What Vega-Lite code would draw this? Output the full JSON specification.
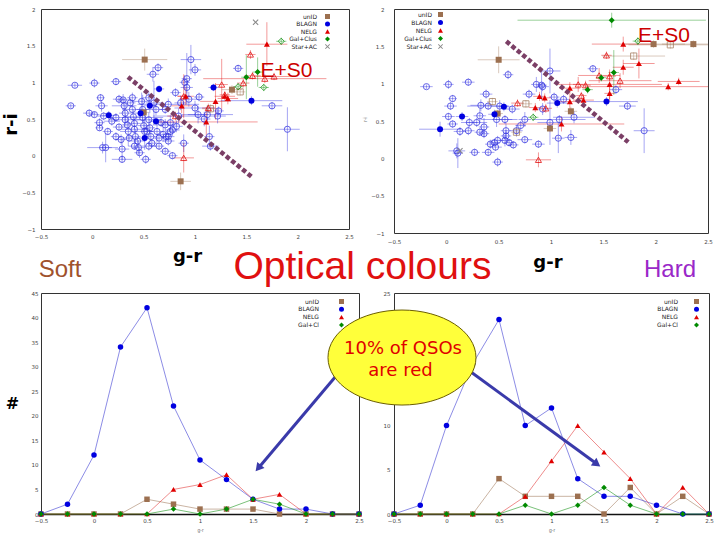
{
"$schema": "https://vega.github.io/schema/vega-lite/v6.json",
"background": "white",
"padding": {"left": 1, "top": 6, "right": 0, "bottom": 0},
"config": {
 "view": {"stroke": "#333", "strokeWidth": 1},
 "axis": {"grid": false, "ticks": false, "domain": false, "labelFontSize": 5.5, "labelColor": "#444", "labelFont": "DejaVu Sans", "labelOverlap": false, "format": "~g"}
},
"bounds": "flush",
"columns": 2,
"spacing": {"row": 60, "column": 35},
"resolve": {"scale": {"color": "independent", "shape": "independent"}, "legend": {"color": "independent", "shape": "independent"}},
"datasets": {
 "tl": [
  {"cls":"BLAGN","fill":"o","gr":-0.21,"ri":0.68,"egr":0.05,"eri":0.03},
  {"cls":"BLAGN","fill":"o","gr":-0.17,"ri":0.96,"egr":0.07,"eri":0.03},
  {"cls":"BLAGN","fill":"o","gr":-0.03,"ri":0.58,"egr":0.06,"eri":0.05},
  {"cls":"BLAGN","fill":"o","gr":0.02,"ri":0.56,"egr":0.05,"eri":0.04},
  {"cls":"BLAGN","fill":"o","gr":0.02,"ri":0.99,"egr":0.05,"eri":0.06},
  {"cls":"BLAGN","fill":"o","gr":0.08,"ri":0.79,"egr":0.04,"eri":0.05},
  {"cls":"BLAGN","fill":"o","gr":0.09,"ri":0.68,"egr":0.06,"eri":0.08},
  {"cls":"BLAGN","fill":"o","gr":0.07,"ri":0.45,"egr":0.05,"eri":0.06},
  {"cls":"BLAGN","fill":"o","gr":0.07,"ri":0.38,"egr":0.04,"eri":0.04},
  {"cls":"BLAGN","fill":"o","gr":0.10,"ri":0.11,"egr":0.15,"eri":0.08},
  {"cls":"BLAGN","fill":"o","gr":0.13,"ri":0.11,"egr":0.06,"eri":0.2},
  {"cls":"BLAGN","fill":"o","gr":0.23,"ri":1.01,"egr":0.05,"eri":0.05},
  {"cls":"BLAGN","fill":"o","gr":0.23,"ri":0.52,"egr":0.08,"eri":0.06},
  {"cls":"BLAGN","fill":"o","gr":0.26,"ri":0.39,"egr":0.06,"eri":0.05},
  {"cls":"BLAGN","fill":"o","gr":0.29,"ri":0.09,"egr":0.07,"eri":0.15},
  {"cls":"BLAGN","fill":"o","gr":0.29,"ri":-0.05,"egr":0.1,"eri":0.05},
  {"cls":"BLAGN","fill":"o","gr":0.30,"ri":0.76,"egr":0.06,"eri":0.08},
  {"cls":"BLAGN","fill":"o","gr":0.31,"ri":0.68,"egr":0.12,"eri":0.1},
  {"cls":"BLAGN","fill":"o","gr":0.32,"ri":0.58,"egr":0.06,"eri":0.12},
  {"cls":"BLAGN","fill":"o","gr":0.32,"ri":0.49,"egr":0.15,"eri":0.08},
  {"cls":"BLAGN","fill":"o","gr":0.34,"ri":0.42,"egr":0.05,"eri":0.06},
  {"cls":"BLAGN","fill":"o","gr":0.35,"ri":0.33,"egr":0.08,"eri":0.2},
  {"cls":"BLAGN","fill":"o","gr":0.36,"ri":0.24,"egr":0.06,"eri":0.05},
  {"cls":"BLAGN","fill":"o","gr":0.37,"ri":0.72,"egr":0.05,"eri":0.06},
  {"cls":"BLAGN","fill":"o","gr":0.39,"ri":0.63,"egr":0.1,"eri":0.07},
  {"cls":"BLAGN","fill":"o","gr":0.40,"ri":0.53,"egr":0.08,"eri":0.1},
  {"cls":"BLAGN","fill":"o","gr":0.41,"ri":0.44,"egr":0.06,"eri":0.08},
  {"cls":"BLAGN","fill":"o","gr":0.41,"ri":0.36,"egr":0.12,"eri":0.06},
  {"cls":"BLAGN","fill":"o","gr":0.42,"ri":0.26,"egr":0.05,"eri":0.1},
  {"cls":"BLAGN","fill":"o","gr":0.44,"ri":0.20,"egr":0.07,"eri":0.05},
  {"cls":"BLAGN","fill":"o","gr":0.45,"ri":0.11,"egr":0.06,"eri":0.1},
  {"cls":"BLAGN","fill":"o","gr":0.46,"ri":0.04,"egr":0.05,"eri":0.07},
  {"cls":"BLAGN","fill":"o","gr":0.48,"ri":0.74,"egr":0.1,"eri":0.12},
  {"cls":"BLAGN","fill":"o","gr":0.49,"ri":0.63,"egr":0.06,"eri":0.2},
  {"cls":"BLAGN","fill":"o","gr":0.49,"ri":0.52,"egr":0.2,"eri":0.06},
  {"cls":"BLAGN","fill":"o","gr":0.50,"ri":0.41,"egr":0.06,"eri":0.08},
  {"cls":"BLAGN","fill":"o","gr":0.51,"ri":0.33,"egr":0.08,"eri":0.25},
  {"cls":"BLAGN","fill":"o","gr":0.52,"ri":-0.05,"egr":0.05,"eri":0.06},
  {"cls":"BLAGN","fill":"o","gr":0.53,"ri":0.33,"egr":0.06,"eri":0.05},
  {"cls":"BLAGN","fill":"o","gr":0.55,"ri":0.49,"egr":0.12,"eri":0.1},
  {"cls":"BLAGN","fill":"o","gr":0.56,"ri":0.38,"egr":0.05,"eri":0.12},
  {"cls":"BLAGN","fill":"o","gr":0.57,"ri":0.26,"egr":0.06,"eri":0.07},
  {"cls":"BLAGN","fill":"o","gr":0.58,"ri":0.17,"egr":0.05,"eri":0.06},
  {"cls":"BLAGN","fill":"o","gr":0.59,"ri":1.11,"egr":0.06,"eri":0.1},
  {"cls":"BLAGN","fill":"o","gr":0.64,"ri":1.20,"egr":0.05,"eri":0.06},
  {"cls":"BLAGN","fill":"o","gr":0.60,"ri":0.72,"egr":0.08,"eri":0.3},
  {"cls":"BLAGN","fill":"o","gr":0.62,"ri":0.63,"egr":0.1,"eri":0.08},
  {"cls":"BLAGN","fill":"o","gr":0.63,"ri":0.33,"egr":0.06,"eri":0.15},
  {"cls":"BLAGN","fill":"o","gr":0.65,"ri":0.24,"egr":0.05,"eri":0.05},
  {"cls":"BLAGN","fill":"o","gr":0.67,"ri":0.45,"egr":0.07,"eri":0.06},
  {"cls":"BLAGN","fill":"o","gr":0.69,"ri":0.29,"egr":0.06,"eri":0.1},
  {"cls":"BLAGN","fill":"o","gr":0.71,"ri":0.63,"egr":0.05,"eri":0.06},
  {"cls":"BLAGN","fill":"o","gr":0.71,"ri":0.42,"egr":0.12,"eri":0.08},
  {"cls":"BLAGN","fill":"o","gr":0.72,"ri":0.26,"egr":0.05,"eri":0.06},
  {"cls":"BLAGN","fill":"o","gr":0.74,"ri":0.26,"egr":0.06,"eri":0.05},
  {"cls":"BLAGN","fill":"o","gr":0.74,"ri":0.70,"egr":0.3,"eri":0.08},
  {"cls":"BLAGN","fill":"o","gr":0.76,"ri":0.45,"egr":0.06,"eri":0.1},
  {"cls":"BLAGN","fill":"o","gr":0.76,"ri":0.33,"egr":0.05,"eri":0.06},
  {"cls":"BLAGN","fill":"o","gr":0.71,"ri":0.06,"egr":0.05,"eri":0.05},
  {"cls":"BLAGN","fill":"o","gr":0.78,"ri":0.00,"egr":0.05,"eri":0.05},
  {"cls":"BLAGN","fill":"o","gr":0.81,"ri":0.86,"egr":0.05,"eri":0.06},
  {"cls":"BLAGN","fill":"o","gr":0.82,"ri":0.40,"egr":0.06,"eri":0.08},
  {"cls":"BLAGN","fill":"o","gr":0.84,"ri":0.54,"egr":0.25,"eri":0.1},
  {"cls":"BLAGN","fill":"o","gr":0.86,"ri":0.72,"egr":0.06,"eri":0.1},
  {"cls":"BLAGN","fill":"o","gr":0.89,"ri":0.17,"egr":0.05,"eri":0.12},
  {"cls":"BLAGN","fill":"o","gr":0.90,"ri":1.00,"egr":0.05,"eri":0.1},
  {"cls":"BLAGN","fill":"o","gr":0.92,"ri":1.05,"egr":0.05,"eri":0.35},
  {"cls":"BLAGN","fill":"o","gr":0.92,"ri":0.93,"egr":0.06,"eri":0.08},
  {"cls":"BLAGN","fill":"o","gr":0.94,"ri":0.77,"egr":0.1,"eri":0.1},
  {"cls":"BLAGN","fill":"o","gr":0.96,"ri":1.31,"egr":0.1,"eri":0.2},
  {"cls":"BLAGN","fill":"o","gr":1.00,"ri":1.17,"egr":0.06,"eri":0.08},
  {"cls":"BLAGN","fill":"o","gr":1.00,"ri":0.65,"egr":0.2,"eri":0.1},
  {"cls":"BLAGN","fill":"o","gr":1.03,"ri":0.56,"egr":0.1,"eri":0.12},
  {"cls":"BLAGN","fill":"o","gr":1.04,"ri":0.80,"egr":0.05,"eri":0.06},
  {"cls":"BLAGN","fill":"o","gr":1.09,"ri":0.50,"egr":0.06,"eri":0.1},
  {"cls":"BLAGN","fill":"o","gr":1.12,"ri":0.56,"egr":0.25,"eri":0.12},
  {"cls":"BLAGN","fill":"o","gr":1.14,"ri":0.26,"egr":0.05,"eri":0.15},
  {"cls":"BLAGN","fill":"o","gr":1.15,"ri":0.13,"egr":0.08,"eri":0.06},
  {"cls":"BLAGN","fill":"o","gr":1.22,"ri":0.54,"egr":0.08,"eri":0.1},
  {"cls":"BLAGN","fill":"o","gr":1.23,"ri":0.61,"egr":0.05,"eri":0.06},
  {"cls":"BLAGN","fill":"o","gr":1.42,"ri":1.19,"egr":0.05,"eri":0.05},
  {"cls":"BLAGN","fill":"o","gr":1.75,"ri":0.68,"egr":0.1,"eri":0.05},
  {"cls":"BLAGN","fill":"o","gr":1.90,"ri":0.36,"egr":0.12,"eri":0.3},
  {"cls":"BLAGN","fill":"o","gr":0.26,"ri":0.77,"egr":0.06,"eri":0.06},
  {"cls":"BLAGN","fill":"o","gr":0.19,"ri":0.47,"egr":0.08,"eri":0.06},
  {"cls":"BLAGN","fill":"o","gr":0.11,"ri":0.54,"egr":0.06,"eri":0.05},
  {"cls":"BLAGN","fill":"o","gr":0.28,"ri":0.22,"egr":0.05,"eri":0.07},
  {"cls":"BLAGN","fill":"o","gr":0.41,"ri":0.13,"egr":0.06,"eri":0.05},
  {"cls":"BLAGN","fill":"o","gr":0.55,"ri":0.13,"egr":0.07,"eri":0.06},
  {"cls":"BLAGN","fill":"o","gr":0.65,"ri":0.13,"egr":0.05,"eri":0.05},
  {"cls":"BLAGN","fill":"o","gr":0.74,"ri":0.20,"egr":0.06,"eri":0.06},
  {"cls":"BLAGN","fill":"o","gr":0.78,"ri":0.35,"egr":0.07,"eri":0.08},
  {"cls":"BLAGN","fill":"o","gr":0.39,"ri":0.79,"egr":0.05,"eri":0.07},
  {"cls":"BLAGN","fill":"o","gr":0.55,"ri":0.79,"egr":0.06,"eri":0.08},
  {"cls":"BLAGN","fill":"o","gr":0.23,"ri":0.26,"egr":0.05,"eri":0.06},
  {"cls":"BLAGN","fill":"o","gr":0.15,"ri":0.33,"egr":0.05,"eri":0.05},
  {"cls":"unID","fill":"o","gr":1.44,"ri":0.87,"egr":0.05,"eri":0.05},
  {"cls":"unID","fill":"o","gr":1.15,"ri":0.64,"egr":0.08,"eri":0.06},
  {"cls":"NELG","fill":"o","gr":1.54,"ri":1.38,"egr":0.05,"eri":0.06},
  {"cls":"NELG","fill":"o","gr":1.26,"ri":0.97,"egr":0.06,"eri":0.35},
  {"cls":"NELG","fill":"o","gr":1.56,"ri":1.09,"egr":0.08,"eri":0.05},
  {"cls":"NELG","fill":"o","gr":1.68,"ri":1.05,"egr":0.6,"eri":0.06},
  {"cls":"NELG","fill":"o","gr":1.77,"ri":1.08,"egr":0.2,"eri":0.05},
  {"cls":"NELG","fill":"o","gr":0.89,"ri":-0.03,"egr":0.1,"eri":0.2},
  {"cls":"NELG","fill":"o","gr":0.81,"ri":0.54,"egr":0.08,"eri":0.06},
  {"cls":"NELG","fill":"o","gr":0.89,"ri":0.81,"egr":0.06,"eri":0.3},
  {"cls":"NELG","fill":"o","gr":1.29,"ri":0.83,"egr":0.05,"eri":0.05},
  {"cls":"NELG","fill":"o","gr":1.13,"ri":0.65,"egr":0.06,"eri":0.06},
  {"cls":"NELG","fill":"o","gr":1.47,"ri":0.99,"egr":0.06,"eri":0.06},
  {"cls":"Gal+Clus","fill":"o","gr":1.84,"ri":1.56,"egr":0.05,"eri":0.05},
  {"cls":"Gal+Clus","fill":"o","gr":1.42,"ri":0.94,"egr":0.05,"eri":0.05},
  {"cls":"Gal+Clus","fill":"o","gr":1.67,"ri":0.93,"egr":0.05,"eri":0.05},
  {"cls":"unID","fill":"f","gr":0.51,"ri":1.31,"egr":0.22,"eri":0.15},
  {"cls":"unID","fill":"f","gr":1.36,"ri":0.90,"egr":0.1,"eri":0.06},
  {"cls":"unID","fill":"f","gr":0.86,"ri":-0.35,"egr":0.1,"eri":0.12},
  {"cls":"unID","fill":"f","gr":0.50,"ri":0.59,"egr":0.05,"eri":0.05},
  {"cls":"BLAGN","fill":"f","gr":0.16,"ri":0.55,"egr":0.08,"eri":0.06},
  {"cls":"BLAGN","fill":"f","gr":0.47,"ri":0.58,"egr":0.06,"eri":0.06},
  {"cls":"BLAGN","fill":"f","gr":0.56,"ri":0.68,"egr":0.06,"eri":0.1},
  {"cls":"BLAGN","fill":"f","gr":0.62,"ri":0.47,"egr":0.06,"eri":0.05},
  {"cls":"BLAGN","fill":"f","gr":0.65,"ri":0.91,"egr":0.05,"eri":0.05},
  {"cls":"BLAGN","fill":"f","gr":1.18,"ri":0.93,"egr":0.05,"eri":0.05},
  {"cls":"BLAGN","fill":"f","gr":1.55,"ri":0.75,"egr":0.3,"eri":0.06},
  {"cls":"BLAGN","fill":"f","gr":0.51,"ri":0.24,"egr":0.06,"eri":0.05},
  {"cls":"NELG","fill":"f","gr":1.70,"ri":1.52,"egr":0.2,"eri":0.3},
  {"cls":"NELG","fill":"f","gr":0.87,"ri":0.68,"egr":0.1,"eri":0.1},
  {"cls":"NELG","fill":"f","gr":0.91,"ri":0.81,"egr":0.08,"eri":0.12},
  {"cls":"NELG","fill":"f","gr":1.11,"ri":0.46,"egr":0.5,"eri":0.2},
  {"cls":"NELG","fill":"f","gr":1.20,"ri":0.74,"egr":0.15,"eri":0.25},
  {"cls":"NELG","fill":"f","gr":1.32,"ri":0.78,"egr":0.1,"eri":0.08},
  {"cls":"NELG","fill":"f","gr":1.29,"ri":0.81,"egr":0.1,"eri":0.06},
  {"cls":"Gal+Clus","fill":"f","gr":1.50,"ri":1.07,"egr":0.05,"eri":0.3},
  {"cls":"Gal+Clus","fill":"f","gr":1.61,"ri":1.14,"egr":0.05,"eri":0.2},
  {"cls":"Star+AC","fill":"f","gr":1.59,"ri":1.82,"egr":0,"eri":0}
 ],
 "tr": [
  {"cls":"BLAGN","fill":"o","gr":-0.19,"ri":0.96,"egr":0.06,"eri":0.03},
  {"cls":"BLAGN","fill":"o","gr":0.02,"ri":0.99,"egr":0.05,"eri":0.06},
  {"cls":"BLAGN","fill":"o","gr":0.21,"ri":1.02,"egr":0.06,"eri":0.05},
  {"cls":"BLAGN","fill":"o","gr":0.06,"ri":0.80,"egr":0.04,"eri":0.05},
  {"cls":"BLAGN","fill":"o","gr":0.04,"ri":0.70,"egr":0.06,"eri":0.05},
  {"cls":"BLAGN","fill":"o","gr":0.02,"ri":0.56,"egr":0.06,"eri":0.05},
  {"cls":"BLAGN","fill":"o","gr":0.06,"ri":0.46,"egr":0.05,"eri":0.05},
  {"cls":"BLAGN","fill":"o","gr":0.13,"ri":0.36,"egr":0.06,"eri":0.06},
  {"cls":"BLAGN","fill":"o","gr":0.10,"ri":0.10,"egr":0.08,"eri":0.1},
  {"cls":"BLAGN","fill":"o","gr":0.11,"ri":0.07,"egr":0.05,"eri":0.2},
  {"cls":"BLAGN","fill":"o","gr":0.27,"ri":0.08,"egr":0.05,"eri":0.05},
  {"cls":"BLAGN","fill":"o","gr":0.22,"ri":0.48,"egr":0.08,"eri":0.06},
  {"cls":"BLAGN","fill":"o","gr":0.29,"ri":0.48,"egr":0.1,"eri":0.06},
  {"cls":"BLAGN","fill":"o","gr":0.32,"ri":0.57,"egr":0.06,"eri":0.1},
  {"cls":"BLAGN","fill":"o","gr":0.38,"ri":0.86,"egr":0.06,"eri":0.06},
  {"cls":"BLAGN","fill":"o","gr":0.33,"ri":0.71,"egr":0.1,"eri":0.08},
  {"cls":"BLAGN","fill":"o","gr":0.40,"ri":0.70,"egr":0.2,"eri":0.05},
  {"cls":"BLAGN","fill":"o","gr":0.36,"ri":0.42,"egr":0.05,"eri":0.12},
  {"cls":"BLAGN","fill":"o","gr":0.36,"ri":0.33,"egr":0.05,"eri":0.06},
  {"cls":"BLAGN","fill":"o","gr":0.40,"ri":0.08,"egr":0.06,"eri":0.05},
  {"cls":"BLAGN","fill":"o","gr":0.42,"ri":0.19,"egr":0.05,"eri":0.06},
  {"cls":"BLAGN","fill":"o","gr":0.46,"ri":0.21,"egr":0.05,"eri":0.05},
  {"cls":"BLAGN","fill":"o","gr":0.48,"ri":0.52,"egr":0.15,"eri":0.1},
  {"cls":"BLAGN","fill":"o","gr":0.49,"ri":0.24,"egr":0.06,"eri":0.06},
  {"cls":"BLAGN","fill":"o","gr":0.51,"ri":0.70,"egr":0.08,"eri":0.08},
  {"cls":"BLAGN","fill":"o","gr":0.56,"ri":0.52,"egr":0.12,"eri":0.06},
  {"cls":"BLAGN","fill":"o","gr":0.57,"ri":0.37,"egr":0.05,"eri":0.1},
  {"cls":"BLAGN","fill":"o","gr":0.56,"ri":0.24,"egr":0.06,"eri":0.08},
  {"cls":"BLAGN","fill":"o","gr":0.57,"ri":0.30,"egr":0.05,"eri":0.08},
  {"cls":"BLAGN","fill":"o","gr":0.59,"ri":1.12,"egr":0.05,"eri":0.06},
  {"cls":"BLAGN","fill":"o","gr":0.60,"ri":0.21,"egr":0.05,"eri":0.05},
  {"cls":"BLAGN","fill":"o","gr":0.63,"ri":0.66,"egr":0.07,"eri":0.06},
  {"cls":"BLAGN","fill":"o","gr":0.64,"ri":0.18,"egr":0.05,"eri":0.05},
  {"cls":"BLAGN","fill":"o","gr":0.67,"ri":0.37,"egr":0.06,"eri":0.08},
  {"cls":"BLAGN","fill":"o","gr":0.71,"ri":0.44,"egr":0.05,"eri":0.06},
  {"cls":"BLAGN","fill":"o","gr":0.75,"ri":0.52,"egr":0.06,"eri":0.1},
  {"cls":"BLAGN","fill":"o","gr":0.75,"ri":0.25,"egr":0.07,"eri":0.05},
  {"cls":"BLAGN","fill":"o","gr":0.79,"ri":0.86,"egr":0.06,"eri":0.06},
  {"cls":"BLAGN","fill":"o","gr":0.86,"ri":0.99,"egr":0.05,"eri":0.1},
  {"cls":"BLAGN","fill":"o","gr":0.88,"ri":0.19,"egr":0.06,"eri":0.05},
  {"cls":"BLAGN","fill":"o","gr":0.91,"ri":0.98,"egr":0.05,"eri":0.2},
  {"cls":"BLAGN","fill":"o","gr":0.92,"ri":0.96,"egr":0.06,"eri":0.06},
  {"cls":"BLAGN","fill":"o","gr":0.92,"ri":0.66,"egr":0.06,"eri":0.08},
  {"cls":"BLAGN","fill":"o","gr":0.99,"ri":1.17,"egr":0.1,"eri":0.3},
  {"cls":"BLAGN","fill":"o","gr":0.99,"ri":0.48,"egr":0.12,"eri":0.3},
  {"cls":"BLAGN","fill":"o","gr":1.03,"ri":0.82,"egr":0.05,"eri":0.06},
  {"cls":"BLAGN","fill":"o","gr":1.07,"ri":0.27,"egr":0.06,"eri":0.2},
  {"cls":"BLAGN","fill":"o","gr":1.08,"ri":0.52,"egr":0.25,"eri":0.06},
  {"cls":"BLAGN","fill":"o","gr":1.12,"ri":0.79,"egr":0.06,"eri":0.06},
  {"cls":"BLAGN","fill":"o","gr":1.19,"ri":0.28,"egr":0.06,"eri":0.1},
  {"cls":"BLAGN","fill":"o","gr":1.22,"ri":0.55,"egr":0.2,"eri":0.08},
  {"cls":"BLAGN","fill":"o","gr":1.40,"ri":1.20,"egr":0.05,"eri":0.05},
  {"cls":"BLAGN","fill":"o","gr":1.62,"ri":0.92,"egr":0.06,"eri":0.06},
  {"cls":"BLAGN","fill":"o","gr":1.73,"ri":0.70,"egr":0.08,"eri":0.05},
  {"cls":"BLAGN","fill":"o","gr":1.89,"ri":0.37,"egr":0.1,"eri":0.3},
  {"cls":"BLAGN","fill":"o","gr":0.49,"ri":-0.05,"egr":0.05,"eri":0.06},
  {"cls":"BLAGN","fill":"o","gr":0.47,"ri":0.15,"egr":0.06,"eri":0.05},
  {"cls":"BLAGN","fill":"o","gr":0.32,"ri":0.35,"egr":0.05,"eri":0.05},
  {"cls":"BLAGN","fill":"o","gr":0.21,"ri":0.37,"egr":0.06,"eri":0.06},
  {"cls":"unID","fill":"o","gr":0.44,"ri":0.76,"egr":0.05,"eri":0.05},
  {"cls":"unID","fill":"o","gr":0.76,"ri":0.73,"egr":0.06,"eri":0.05},
  {"cls":"unID","fill":"o","gr":1.79,"ri":1.37,"egr":0.3,"eri":0.05},
  {"cls":"unID","fill":"o","gr":2.14,"ri":1.52,"egr":0.4,"eri":0.05},
  {"cls":"unID","fill":"o","gr":0.67,"ri":0.35,"egr":0.05,"eri":0.05},
  {"cls":"NELG","fill":"o","gr":1.53,"ri":1.38,"egr":0.05,"eri":0.05},
  {"cls":"NELG","fill":"o","gr":1.26,"ri":0.99,"egr":0.05,"eri":0.1},
  {"cls":"NELG","fill":"o","gr":1.33,"ri":0.98,"egr":0.05,"eri":0.06},
  {"cls":"NELG","fill":"o","gr":1.46,"ri":1.11,"egr":0.2,"eri":0.1},
  {"cls":"NELG","fill":"o","gr":1.66,"ri":1.04,"egr":0.3,"eri":0.1},
  {"cls":"NELG","fill":"o","gr":0.88,"ri":-0.02,"egr":0.12,"eri":0.1},
  {"cls":"NELG","fill":"o","gr":0.68,"ri":0.74,"egr":0.06,"eri":0.05},
  {"cls":"NELG","fill":"o","gr":0.95,"ri":0.67,"egr":0.06,"eri":0.06},
  {"cls":"NELG","fill":"o","gr":1.29,"ri":0.84,"egr":0.05,"eri":0.05},
  {"cls":"NELG","fill":"o","gr":1.56,"ri":1.10,"egr":0.06,"eri":0.06},
  {"cls":"Gal+Clus","fill":"o","gr":1.83,"ri":1.57,"egr":0.05,"eri":0.05},
  {"cls":"Gal+Clus","fill":"o","gr":0.83,"ri":0.55,"egr":0.05,"eri":0.05},
  {"cls":"unID","fill":"f","gr":0.50,"ri":1.32,"egr":0.2,"eri":0.18},
  {"cls":"unID","fill":"f","gr":1.98,"ri":1.53,"egr":0.3,"eri":0.05},
  {"cls":"unID","fill":"f","gr":2.36,"ri":1.53,"egr":0.3,"eri":0.05},
  {"cls":"unID","fill":"f","gr":1.19,"ri":0.63,"egr":0.06,"eri":0.06},
  {"cls":"unID","fill":"f","gr":0.99,"ri":0.40,"egr":0.06,"eri":0.05},
  {"cls":"unID","fill":"f","gr":0.49,"ri":0.60,"egr":0.05,"eri":0.05},
  {"cls":"BLAGN","fill":"f","gr":-0.06,"ri":0.39,"egr":0.2,"eri":0.1},
  {"cls":"BLAGN","fill":"f","gr":0.15,"ri":0.56,"egr":0.06,"eri":0.06},
  {"cls":"BLAGN","fill":"f","gr":0.46,"ri":0.59,"egr":0.06,"eri":0.06},
  {"cls":"BLAGN","fill":"f","gr":0.55,"ri":0.69,"egr":0.06,"eri":0.06},
  {"cls":"BLAGN","fill":"f","gr":1.06,"ri":0.74,"egr":0.1,"eri":0.06},
  {"cls":"BLAGN","fill":"f","gr":1.53,"ri":0.76,"egr":0.3,"eri":0.06},
  {"cls":"NELG","fill":"f","gr":1.69,"ri":1.53,"egr":0.3,"eri":0.1},
  {"cls":"NELG","fill":"f","gr":1.69,"ri":1.22,"egr":0.1,"eri":0.1},
  {"cls":"NELG","fill":"f","gr":1.84,"ri":1.27,"egr":0.15,"eri":0.2},
  {"cls":"NELG","fill":"f","gr":2.22,"ri":1.03,"egr":0.2,"eri":0.05},
  {"cls":"NELG","fill":"f","gr":2.12,"ri":0.96,"egr":0.8,"eri":0.05},
  {"cls":"NELG","fill":"f","gr":1.56,"ri":0.99,"egr":0.5,"eri":0.2},
  {"cls":"NELG","fill":"f","gr":1.56,"ri":0.87,"egr":0.05,"eri":0.1},
  {"cls":"NELG","fill":"f","gr":1.18,"ri":0.94,"egr":0.1,"eri":0.08},
  {"cls":"NELG","fill":"f","gr":1.18,"ri":0.76,"egr":0.1,"eri":0.1},
  {"cls":"NELG","fill":"f","gr":1.31,"ri":0.78,"egr":0.1,"eri":0.08},
  {"cls":"NELG","fill":"f","gr":0.89,"ri":0.83,"egr":0.06,"eri":0.06},
  {"cls":"NELG","fill":"f","gr":0.94,"ri":0.81,"egr":0.06,"eri":0.06},
  {"cls":"NELG","fill":"f","gr":0.85,"ri":0.68,"egr":0.06,"eri":0.06},
  {"cls":"NELG","fill":"f","gr":1.10,"ri":0.46,"egr":0.6,"eri":0.1},
  {"cls":"Gal+Clus","fill":"f","gr":1.58,"ri":1.85,"egr":0.9,"eri":0.1},
  {"cls":"Gal+Clus","fill":"f","gr":1.60,"ri":1.15,"egr":0.05,"eri":0.3},
  {"cls":"Gal+Clus","fill":"f","gr":1.48,"ri":1.08,"egr":0.05,"eri":0.05},
  {"cls":"Gal+Clus","fill":"f","gr":1.35,"ri":0.92,"egr":0.05,"eri":0.05},
  {"cls":"Star+AC","fill":"f","gr":0.13,"ri":0.10,"egr":0,"eri":0}
 ],
 "bl": [
  {"cls":"unID","gr":-0.5,"n":0},{"cls":"unID","gr":-0.25,"n":0},{"cls":"unID","gr":0,"n":0},{"cls":"unID","gr":0.25,"n":0},{"cls":"unID","gr":0.5,"n":3},{"cls":"unID","gr":0.75,"n":2},{"cls":"unID","gr":1,"n":1},{"cls":"unID","gr":1.25,"n":1},{"cls":"unID","gr":1.5,"n":1},{"cls":"unID","gr":1.75,"n":0},{"cls":"unID","gr":2,"n":0},{"cls":"unID","gr":2.25,"n":0},{"cls":"unID","gr":2.5,"n":0},
  {"cls":"BLAGN","gr":-0.5,"n":0},{"cls":"BLAGN","gr":-0.25,"n":2},{"cls":"BLAGN","gr":0,"n":12},{"cls":"BLAGN","gr":0.25,"n":34},{"cls":"BLAGN","gr":0.5,"n":42},{"cls":"BLAGN","gr":0.75,"n":22},{"cls":"BLAGN","gr":1,"n":11},{"cls":"BLAGN","gr":1.25,"n":7},{"cls":"BLAGN","gr":1.5,"n":3},{"cls":"BLAGN","gr":1.75,"n":1},{"cls":"BLAGN","gr":2,"n":1},{"cls":"BLAGN","gr":2.25,"n":0},{"cls":"BLAGN","gr":2.5,"n":0},
  {"cls":"NELG","gr":-0.5,"n":0},{"cls":"NELG","gr":-0.25,"n":0},{"cls":"NELG","gr":0,"n":0},{"cls":"NELG","gr":0.25,"n":0},{"cls":"NELG","gr":0.5,"n":0},{"cls":"NELG","gr":0.75,"n":5},{"cls":"NELG","gr":1,"n":6},{"cls":"NELG","gr":1.25,"n":8},{"cls":"NELG","gr":1.5,"n":3},{"cls":"NELG","gr":1.75,"n":4},{"cls":"NELG","gr":2,"n":0},{"cls":"NELG","gr":2.25,"n":0},{"cls":"NELG","gr":2.5,"n":0},
  {"cls":"Gal+Cl","gr":-0.5,"n":0},{"cls":"Gal+Cl","gr":-0.25,"n":0},{"cls":"Gal+Cl","gr":0,"n":0},{"cls":"Gal+Cl","gr":0.25,"n":0},{"cls":"Gal+Cl","gr":0.5,"n":0},{"cls":"Gal+Cl","gr":0.75,"n":1},{"cls":"Gal+Cl","gr":1,"n":0},{"cls":"Gal+Cl","gr":1.25,"n":1},{"cls":"Gal+Cl","gr":1.5,"n":3},{"cls":"Gal+Cl","gr":1.75,"n":2},{"cls":"Gal+Cl","gr":2,"n":0},{"cls":"Gal+Cl","gr":2.25,"n":0},{"cls":"Gal+Cl","gr":2.5,"n":0}
 ],
 "br": [
  {"cls":"unID","gr":-0.5,"n":0},{"cls":"unID","gr":-0.25,"n":0},{"cls":"unID","gr":0,"n":0},{"cls":"unID","gr":0.25,"n":0},{"cls":"unID","gr":0.5,"n":4},{"cls":"unID","gr":0.75,"n":2},{"cls":"unID","gr":1,"n":2},{"cls":"unID","gr":1.25,"n":2},{"cls":"unID","gr":1.5,"n":0},{"cls":"unID","gr":1.75,"n":3},{"cls":"unID","gr":2,"n":0},{"cls":"unID","gr":2.25,"n":2},{"cls":"unID","gr":2.5,"n":0},
  {"cls":"BLAGN","gr":-0.5,"n":0},{"cls":"BLAGN","gr":-0.25,"n":1},{"cls":"BLAGN","gr":0,"n":10},{"cls":"BLAGN","gr":0.25,"n":17},{"cls":"BLAGN","gr":0.5,"n":22},{"cls":"BLAGN","gr":0.75,"n":10},{"cls":"BLAGN","gr":1,"n":12},{"cls":"BLAGN","gr":1.25,"n":4},{"cls":"BLAGN","gr":1.5,"n":2},{"cls":"BLAGN","gr":1.75,"n":2},{"cls":"BLAGN","gr":2,"n":1},{"cls":"BLAGN","gr":2.25,"n":0},{"cls":"BLAGN","gr":2.5,"n":0},
  {"cls":"NELG","gr":-0.5,"n":0},{"cls":"NELG","gr":-0.25,"n":0},{"cls":"NELG","gr":0,"n":0},{"cls":"NELG","gr":0.25,"n":0},{"cls":"NELG","gr":0.5,"n":0},{"cls":"NELG","gr":0.75,"n":2},{"cls":"NELG","gr":1,"n":6},{"cls":"NELG","gr":1.25,"n":10},{"cls":"NELG","gr":1.5,"n":7},{"cls":"NELG","gr":1.75,"n":4},{"cls":"NELG","gr":2,"n":0},{"cls":"NELG","gr":2.25,"n":3},{"cls":"NELG","gr":2.5,"n":0},
  {"cls":"Gal+Cl","gr":-0.5,"n":0},{"cls":"Gal+Cl","gr":-0.25,"n":0},{"cls":"Gal+Cl","gr":0,"n":0},{"cls":"Gal+Cl","gr":0.25,"n":0},{"cls":"Gal+Cl","gr":0.5,"n":0},{"cls":"Gal+Cl","gr":0.75,"n":1},{"cls":"Gal+Cl","gr":1,"n":0},{"cls":"Gal+Cl","gr":1.25,"n":1},{"cls":"Gal+Cl","gr":1.5,"n":3},{"cls":"Gal+Cl","gr":1.75,"n":1},{"cls":"Gal+Cl","gr":2,"n":0},{"cls":"Gal+Cl","gr":2.25,"n":0},{"cls":"Gal+Cl","gr":2.5,"n":0}
 ]
},
"concat": [
   {
    "width": 308, "height": 220,
    "resolve": {"scale": {"color": "independent", "shape": "independent"}},
    "encoding": {
     "x": {"field": "gr", "type": "quantitative", "scale": {"domain": [-0.5, 2.5], "nice": false, "zero": false}, "axis": {"values": [-0.5, 0, 0.5, 1, 1.5, 2, 2.5], "title": null, "labelFlush": false, "labelPadding": 5}},
     "y": {"field": "ri", "type": "quantitative", "scale": {"domain": [-1, 2], "nice": false, "zero": false}, "axis": {"values": [-1, -0.5, 0, 0.5, 1, 1.5, 2], "title": "r-i", "titleFont": "DejaVu Sans", "titleFontSize": 18, "titleFontWeight": "bold", "titleColor": "#000", "titleX": -21, "titleY": 115, "labelPadding": 6, "labelFlush": false}}
    },
    "layer": [
     {"data": {"name": "tl"}, "mark": {"type": "errorbar", "ticks": false, "thickness": 1, "opacity": 0.4},
      "encoding": {"xError": {"field": "egr"}, "color": {"field": "cls", "type": "nominal", "scale": {"domain": ["unID","BLAGN","NELG","Gal+Clus","Star+AC"], "range": ["#a0785a","#2020e0","#e00000","#008a00","#888888"]}, "legend": null}}},
     {"data": {"name": "tl"}, "mark": {"type": "errorbar", "ticks": false, "thickness": 1, "opacity": 0.4},
      "encoding": {"yError": {"field": "eri"}, "color": {"field": "cls", "type": "nominal", "scale": {"domain": ["unID","BLAGN","NELG","Gal+Clus","Star+AC"], "range": ["#a0785a","#2020e0","#e00000","#008a00","#888888"]}, "legend": null}}},
     {"data": {"name": "tl"}, "transform": [{"filter": "datum.fill == 'o'"}], "mark": {"type": "point", "filled": false, "strokeWidth": 1, "size": 38, "opacity": 0.75},
      "encoding": {"color": {"field": "cls", "type": "nominal", "scale": {"domain": ["unID","BLAGN","NELG","Gal+Clus","Star+AC"], "range": ["#a0785a","#3030e0","#e00000","#008a00","#888888"]}, "legend": null},
       "shape": {"field": "cls", "type": "nominal", "scale": {"domain": ["unID","BLAGN","NELG","Gal+Clus","Star+AC"], "range": ["square","circle","triangle-up","diamond","M-1,-0.75L-0.75,-1L0,-0.25L0.75,-1L1,-0.75L0.25,0L1,0.75L0.75,1L0,0.25L-0.75,1L-1,0.75L-0.25,0Z"]}, "legend": null}}},
     {"data": {"name": "tl"}, "transform": [{"filter": "datum.fill == 'f'"}], "mark": {"type": "point", "filled": true, "size": 36, "opacity": 1},
      "encoding": {"color": {"field": "cls", "type": "nominal", "scale": {"domain": ["unID","BLAGN","NELG","Gal+Clus","Star+AC"], "range": ["#9c7050","#0000e0","#e00000","#008a00","#888888"]}, "legend": {"title": null, "orient": "none", "legendX": 283, "legendY": 4, "labelAlign": "right", "labelOffset": -14, "labelFontSize": 6, "labelFont": "DejaVu Sans", "labelColor": "#222", "symbolSize": 25, "rowPadding": 0.5, "padding": 0}},
       "shape": {"field": "cls", "type": "nominal", "scale": {"domain": ["unID","BLAGN","NELG","Gal+Clus","Star+AC"], "range": ["square","circle","triangle-up","diamond","M-1,-0.75L-0.75,-1L0,-0.25L0.75,-1L1,-0.75L0.25,0L1,0.75L0.75,1L0,0.25L-0.75,1L-1,0.75L-0.25,0Z"]}, "legend": {"title": null, "orient": "none", "legendX": 283, "legendY": 4, "labelAlign": "right", "labelOffset": -14, "labelFontSize": 6, "labelFont": "DejaVu Sans", "labelColor": "#222", "symbolSize": 25, "rowPadding": 0.5, "padding": 0}}}},
     {"data": {"values": [{"gr": 0.347, "ri": 1.073}, {"gr": 1.555, "ri": -0.291}]}, "mark": {"type": "line", "color": "#7b3f66", "strokeWidth": 4.5, "strokeDash": [4.5, 2.5]}, "encoding": {}},
     {"data": {"values": [{"gr": 1.891, "ri": 1.073, "txt": "E+S0"}]}, "mark": {"type": "text", "font": "Liberation Sans", "fontSize": 21, "color": "#cc0000", "align": "center", "baseline": "alphabetic"}, "encoding": {"text": {"field": "txt"}}},
     {"data": {"values": [{"gr": -0.315, "ri": -1.655, "txt": "Soft"}]}, "mark": {"type": "text", "font": "Liberation Sans", "fontSize": 24, "color": "#a0522d", "align": "center", "baseline": "alphabetic"}, "encoding": {"text": {"field": "txt"}}},
     {"data": {"values": [{"gr": 0.927, "ri": -1.45, "txt": "g-r"}]}, "mark": {"type": "text", "font": "DejaVu Sans", "fontSize": 18, "fontWeight": "bold", "color": "#000", "align": "center", "baseline": "alphabetic"}, "encoding": {"text": {"field": "txt"}}},
     {"data": {"values": [{"gr": 2.631, "ri": -1.682, "txt": "Optical colours"}]}, "mark": {"type": "text", "font": "Liberation Sans", "fontSize": 39, "color": "#e01010", "align": "center", "baseline": "alphabetic"}, "encoding": {"text": {"field": "txt"}}}
    ]
   },
   {
    "width": 314, "height": 224,
    "resolve": {"scale": {"color": "independent", "shape": "independent"}},
    "encoding": {
     "x": {"field": "gr", "type": "quantitative", "scale": {"domain": [-0.5, 2.5], "nice": false, "zero": false}, "axis": {"values": [-0.5, 0, 0.5, 1, 1.5, 2, 2.5], "title": null, "labelFlush": false, "labelPadding": 6}},
     "y": {"field": "ri", "type": "quantitative", "scale": {"domain": [-1, 2], "nice": false, "zero": false}, "axis": {"values": [-1, -0.5, 0, 0.5, 1, 1.5, 2], "title": "r-i", "titleFontSize": 5, "titleColor": "#777", "titleFontWeight": "normal", "titleX": -27, "titleY": 110, "labelPadding": 10, "labelFlush": false}}
    },
    "layer": [
     {"data": {"name": "tr"}, "mark": {"type": "errorbar", "ticks": false, "thickness": 1, "opacity": 0.4, "clip": true},
      "encoding": {"xError": {"field": "egr"}, "color": {"field": "cls", "type": "nominal", "scale": {"domain": ["unID","BLAGN","NELG","Gal+Clus","Star+AC"], "range": ["#a0785a","#2020e0","#e00000","#008a00","#888888"]}, "legend": null}}},
     {"data": {"name": "tr"}, "mark": {"type": "errorbar", "ticks": false, "thickness": 1, "opacity": 0.4, "clip": true},
      "encoding": {"yError": {"field": "eri"}, "color": {"field": "cls", "type": "nominal", "scale": {"domain": ["unID","BLAGN","NELG","Gal+Clus","Star+AC"], "range": ["#a0785a","#2020e0","#e00000","#008a00","#888888"]}, "legend": null}}},
     {"data": {"name": "tr"}, "transform": [{"filter": "datum.fill == 'o'"}], "mark": {"type": "point", "filled": false, "strokeWidth": 1, "size": 38, "opacity": 0.75},
      "encoding": {"color": {"field": "cls", "type": "nominal", "scale": {"domain": ["unID","BLAGN","NELG","Gal+Clus","Star+AC"], "range": ["#a0785a","#3030e0","#e00000","#008a00","#888888"]}, "legend": null},
       "shape": {"field": "cls", "type": "nominal", "scale": {"domain": ["unID","BLAGN","NELG","Gal+Clus","Star+AC"], "range": ["square","circle","triangle-up","diamond","M-1,-0.75L-0.75,-1L0,-0.25L0.75,-1L1,-0.75L0.25,0L1,0.75L0.75,1L0,0.25L-0.75,1L-1,0.75L-0.25,0Z"]}, "legend": null}}},
     {"data": {"name": "tr"}, "transform": [{"filter": "datum.fill == 'f'"}], "mark": {"type": "point", "filled": true, "size": 36, "opacity": 1},
      "encoding": {"color": {"field": "cls", "type": "nominal", "scale": {"domain": ["unID","BLAGN","NELG","Gal+Clus","Star+AC"], "range": ["#9c7050","#0000e0","#e00000","#008a00","#888888"]}, "legend": {"title": null, "orient": "none", "legendX": 43, "legendY": 2, "labelAlign": "right", "labelOffset": -12, "labelFontSize": 6, "labelFont": "DejaVu Sans", "labelColor": "#222", "symbolSize": 25, "rowPadding": 1, "padding": 0}},
       "shape": {"field": "cls", "type": "nominal", "scale": {"domain": ["unID","BLAGN","NELG","Gal+Clus","Star+AC"], "range": ["square","circle","triangle-up","diamond","M-1,-0.75L-0.75,-1L0,-0.25L0.75,-1L1,-0.75L0.25,0L1,0.75L0.75,1L0,0.25L-0.75,1L-1,0.75L-0.25,0Z"]}, "legend": {"title": null, "orient": "none", "legendX": 43, "legendY": 2, "labelAlign": "right", "labelOffset": -12, "labelFontSize": 6, "labelFont": "DejaVu Sans", "labelColor": "#222", "symbolSize": 25, "rowPadding": 1, "padding": 0}}}},
     {"data": {"values": [{"gr": 0.573, "ri": 1.567}, {"gr": 1.738, "ri": 0.217}]}, "mark": {"type": "line", "color": "#7b3f66", "strokeWidth": 4.5, "strokeDash": [4.5, 2.5]}, "encoding": {}},
     {"data": {"values": [{"gr": 2.08, "ri": 1.558, "txt": "E+S0"}]}, "mark": {"type": "text", "font": "Liberation Sans", "fontSize": 21, "color": "#cc0000", "align": "center", "baseline": "alphabetic"}, "encoding": {"text": {"field": "txt"}}},
     {"data": {"values": [{"gr": 0.971, "ri": -1.469, "txt": "g-r"}]}, "mark": {"type": "text", "font": "DejaVu Sans", "fontSize": 18, "fontWeight": "bold", "color": "#000", "align": "center", "baseline": "alphabetic"}, "encoding": {"text": {"field": "txt"}}},
     {"data": {"values": [{"gr": 2.137, "ri": -1.589, "txt": "Hard"}]}, "mark": {"type": "text", "font": "Liberation Sans", "fontSize": 24, "color": "#9a28c8", "align": "center", "baseline": "alphabetic"}, "encoding": {"text": {"field": "txt"}}}
    ]
   },
   {
    "width": 318, "height": 221,
    "resolve": {"scale": {"color": "independent", "shape": "independent"}},
    "encoding": {
     "x": {"field": "gr", "type": "quantitative", "scale": {"domain": [-0.5, 2.5], "nice": false, "zero": false}, "axis": {"values": [-0.5, 0, 0.5, 1, 1.5, 2, 2.5], "title": "g-r", "titleFontSize": 5, "titleColor": "#777", "titleFontWeight": "normal", "titlePadding": 4, "domain": true, "domainColor": "#111", "domainWidth": 1.5, "labelFlush": false, "labelPadding": 4}},
     "y": {"field": "n", "type": "quantitative", "scale": {"domain": [0, 45], "nice": false}, "axis": {"values": [0, 5, 10, 15, 20, 25, 30, 35, 40, 45], "title": "#", "titleAngle": 0, "titleX": -29, "titleY": 110, "titleAlign": "center", "titleBaseline": "middle", "titleFontSize": 16, "titleFontWeight": "bold", "titleFont": "DejaVu Sans", "titleColor": "#000", "labelPadding": 3}}
    },
    "layer": [
     {"data": {"name": "bl"}, "mark": {"type": "line", "strokeWidth": 0.8, "opacity": 0.7},
      "encoding": {"color": {"field": "cls", "type": "nominal", "scale": {"domain": ["unID","BLAGN","NELG","Gal+Cl"], "range": ["#a0785a","#3030d0","#e03030","#109010"]}, "legend": null}}},
     {"data": {"name": "bl"}, "mark": {"type": "point", "filled": true, "size": 30, "opacity": 1},
      "encoding": {"color": {"field": "cls", "type": "nominal", "scale": {"domain": ["unID","BLAGN","NELG","Gal+Cl"], "range": ["#9c7050","#0000e0","#e00000","#008a00"]}, "legend": {"title": null, "orient": "none", "legendX": 297, "legendY": 5, "labelAlign": "right", "labelOffset": -26, "labelFontSize": 6, "labelFont": "DejaVu Sans", "labelColor": "#222", "symbolSize": 25, "rowPadding": 0.8, "padding": 0}},
       "shape": {"field": "cls", "type": "nominal", "scale": {"domain": ["unID","BLAGN","NELG","Gal+Cl"], "range": ["square","circle","triangle-up","diamond"]}, "legend": {"title": null, "orient": "none", "legendX": 297, "legendY": 5, "labelAlign": "right", "labelOffset": -26, "labelFontSize": 6, "labelFont": "DejaVu Sans", "labelColor": "#222", "symbolSize": 25, "rowPadding": 0.8, "padding": 0}}}}
    ]
   },
   {
    "width": 315, "height": 221,
    "resolve": {"scale": {"color": "independent", "shape": "independent"}},
    "encoding": {
     "x": {"field": "gr", "type": "quantitative", "scale": {"domain": [-0.5, 2.5], "nice": false, "zero": false}, "axis": {"values": [-0.5, 0, 0.5, 1, 1.5, 2, 2.5], "title": "g-r", "titleFontSize": 5, "titleColor": "#777", "titleFontWeight": "normal", "titlePadding": 4, "domain": true, "domainColor": "#111", "domainWidth": 1.5, "labelFlush": false, "labelPadding": 4}},
     "y": {"field": "n", "type": "quantitative", "scale": {"domain": [0, 25], "nice": false}, "axis": {"values": [0, 5, 10, 15, 20, 25], "title": null, "labelPadding": 4}}
    },
    "layer": [
     {"data": {"name": "br"}, "mark": {"type": "line", "strokeWidth": 0.8, "opacity": 0.7},
      "encoding": {"color": {"field": "cls", "type": "nominal", "scale": {"domain": ["unID","BLAGN","NELG","Gal+Cl"], "range": ["#a0785a","#3030d0","#e03030","#109010"]}, "legend": null}}},
     {"data": {"name": "br"}, "mark": {"type": "point", "filled": true, "size": 30, "opacity": 1},
      "encoding": {"color": {"field": "cls", "type": "nominal", "scale": {"domain": ["unID","BLAGN","NELG","Gal+Cl"], "range": ["#9c7050","#0000e0","#e00000","#008a00"]}, "legend": {"title": null, "orient": "none", "legendX": 299, "legendY": 5, "labelAlign": "right", "labelOffset": -22, "labelFontSize": 6, "labelFont": "DejaVu Sans", "labelColor": "#222", "symbolSize": 25, "rowPadding": 0.8, "padding": 0}},
       "shape": {"field": "cls", "type": "nominal", "scale": {"domain": ["unID","BLAGN","NELG","Gal+Cl"], "range": ["square","circle","triangle-up","diamond"]}, "legend": {"title": null, "orient": "none", "legendX": 299, "legendY": 5, "labelAlign": "right", "labelOffset": -22, "labelFontSize": 6, "labelFont": "DejaVu Sans", "labelColor": "#222", "symbolSize": 25, "rowPadding": 0.8, "padding": 0}}}},
     {"data": {"values": [{"id": "a", "gr": -1.052, "n": 15.61}, {"id": "a", "gr": -1.793, "n": 5.18}, {"id": "b", "gr": 0.233, "n": 16.06}, {"id": "b", "gr": 1.433, "n": 5.66}]}, "mark": {"type": "line", "color": "#3a3aaa", "strokeWidth": 3}, "encoding": {"detail": {"field": "id"}}},
     {"data": {"values": [{"gr": -0.424, "n": 17.7}]}, "mark": {"type": "point", "shape": "M-1,0A1,0.642,0,1,1,1,0A1,0.642,0,1,1,-1,0Z", "size": 21904, "filled": true, "color": "#ffff3a", "stroke": "#6b5e00", "strokeWidth": 1, "opacity": 1}, "encoding": {}},
     {"data": {"values": [{"gr": -0.414, "n": 18.1, "txt": "10% of QSOs"}, {"gr": -0.438, "n": 15.61, "txt": "are red"}]}, "mark": {"type": "text", "font": "DejaVu Sans", "fontSize": 18, "color": "#e00000", "align": "center", "baseline": "alphabetic"}, "encoding": {"text": {"field": "txt"}}},
     {"data": {"values": [{"gr": -1.793, "n": 5.18}]}, "mark": {"type": "point", "shape": "triangle-up", "size": 90, "filled": true, "color": "#3a3aaa", "opacity": 1, "angle": 220}, "encoding": {}},
     {"data": {"values": [{"gr": 1.433, "n": 5.66}]}, "mark": {"type": "point", "shape": "triangle-up", "size": 90, "filled": true, "color": "#3a3aaa", "opacity": 1, "angle": 126}, "encoding": {}}
    ]
   }
]
}
